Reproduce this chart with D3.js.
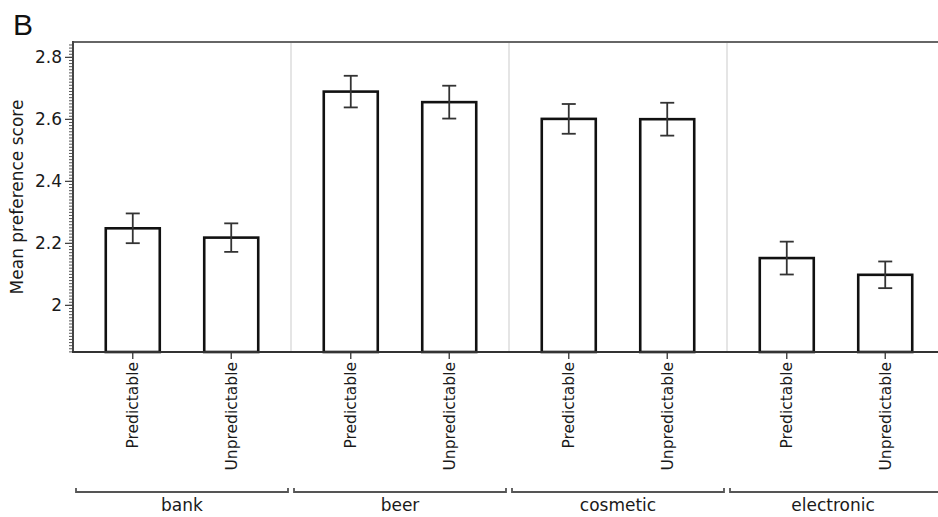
<!DOCTYPE html>
<html>
<head>
<meta charset="utf-8">
<script src="https://cdn.jsdelivr.net/npm/d3@7"></script>
<style>
  html, body { margin: 0; padding: 0; background: #fff; }
  svg { display: block; }
  text { font-family: "DejaVu Sans", sans-serif; fill: #1a1a1a; }
</style>
</head>
<body>
<svg id="chart" width="938" height="517"></svg>
<script>
const categories = ["bank", "beer", "cosmetic", "electronic"];
const levels = ["Predictable", "Unpredictable"];
const predictableMean = [2.247, 2.688, 2.600, 2.151];
const unpredictableMean = [2.217, 2.654, 2.599, 2.097];
const predictableErr = [0.048, 0.051, 0.048, 0.053];
const unpredictableErr = [0.046, 0.053, 0.053, 0.043];
const yMajorTicks = [2, 2.2, 2.4, 2.6, 2.8];
const yTickLabels = ["2", "2.2", "2.4", "2.6", "2.8"];
const yTitle = "Mean preference score";
const panelLabel = "B";

(function () {
const rows = [];
categories.forEach((c, i) => {
  rows.push({cat: c, level: levels[0], mean: predictableMean[i], err: predictableErr[i]});
  rows.push({cat: c, level: levels[1], mean: unpredictableMean[i], err: unpredictableErr[i]});
});

const svg = d3.select("#chart");
const pL = 73, pT = 42, pB = 352, pR = 945;

const x0 = d3.scaleBand().domain(categories).range([pL, pR]);
const x1 = d3.scalePoint().domain(levels).range([0, x0.bandwidth()]).padding(0.607);
const y = d3.scaleLinear().domain([1.848, 2.848]).range([pB, pT]);
const barW = 54;

// panel label
svg.append("text").attr("x", 13).attr("y", 35)
  .style("font-family", "'Liberation Sans', Arial, sans-serif")
  .style("font-size", "30px").style("fill", "#111").text(panelLabel);

// group separators
svg.append("g").selectAll("line").data(categories.slice(1)).join("line")
  .attr("x1", d => x0(d)).attr("x2", d => x0(d))
  .attr("y1", pT).attr("y2", pB)
  .attr("stroke", "#d4d4d4").attr("stroke-width", 1.2);

// top frame
svg.append("line").attr("x1", pL).attr("x2", 938).attr("y1", pT).attr("y2", pT)
  .attr("stroke", "#666").attr("stroke-width", 2);

// bars
svg.append("g").selectAll("rect").data(rows).join("rect")
  .attr("x", d => x0(d.cat) + x1(d.level) - barW / 2)
  .attr("width", barW)
  .attr("y", d => y(d.mean))
  .attr("height", d => pB - y(d.mean))
  .attr("fill", "#fff").attr("stroke", "#111").attr("stroke-width", 2.6);

// error bars
const eb = svg.append("g").attr("stroke", "#333").attr("stroke-width", 1.8);
rows.forEach(d => {
  const cx = x0(d.cat) + x1(d.level);
  eb.append("line").attr("x1", cx).attr("x2", cx).attr("y1", y(d.mean + d.err)).attr("y2", y(d.mean - d.err));
  eb.append("line").attr("x1", cx - 7).attr("x2", cx + 7).attr("y1", y(d.mean + d.err)).attr("y2", y(d.mean + d.err));
  eb.append("line").attr("x1", cx - 7).attr("x2", cx + 7).attr("y1", y(d.mean - d.err)).attr("y2", y(d.mean - d.err));
});

// y axis: minor ticks
const minor = d3.range(185, 285).map(v => v / 100);
svg.append("g").attr("transform", `translate(${pL},0)`)
  .call(d3.axisLeft(y).tickValues(minor).tickSize(4).tickFormat(""))
  .call(g => g.select(".domain").remove())
  .call(g => g.selectAll("line").attr("stroke", "#555").attr("stroke-width", 1));

// y axis: major ticks
const yAxis = svg.append("g").attr("transform", `translate(${pL},0)`)
  .call(d3.axisLeft(y).tickValues(yMajorTicks).tickSize(8).tickPadding(3)
    .tickFormat((d, i) => yTickLabels[i]));
yAxis.select(".domain").remove();
yAxis.selectAll("line").attr("stroke", "#444").attr("stroke-width", 1.3);
yAxis.selectAll("text").style("font-size", "17px").style("font-family", "'DejaVu Sans', sans-serif").style("fill", "#1a1a1a");

svg.append("line").attr("x1", pL).attr("x2", pL).attr("y1", pT - 1).attr("y2", pB)
  .attr("stroke", "#444").attr("stroke-width", 2);

// x axis
svg.append("line").attr("x1", pL - 1).attr("x2", 938).attr("y1", pB).attr("y2", pB)
  .attr("stroke", "#333").attr("stroke-width", 2.2);

const xt = svg.append("g").selectAll("g").data(rows).join("g")
  .attr("transform", d => `translate(${x0(d.cat) + x1(d.level)},${pB})`);
xt.append("line").attr("y1", 0).attr("y2", 7).attr("stroke", "#333").attr("stroke-width", 1.3);
xt.append("text").attr("transform", "rotate(-90)")
  .attr("x", -10).attr("y", 0).attr("dy", "0.35em")
  .attr("text-anchor", "end")
  .style("font-size", "15.5px").text(d => d.level);

// group brackets
const br = svg.append("g").attr("stroke", "#555").attr("stroke-width", 1.8).attr("fill", "none");
categories.forEach(c => {
  const a = x0(c) + 3, b = Math.min(x0(c) + x0.bandwidth() - 3, 940);
  br.append("path").attr("d", `M${a},${488}V${492}H${b}V${488}`);
});
svg.append("g").selectAll("text").data(categories).join("text")
  .attr("x", d => x0(d) + x0.bandwidth() / 2 - (d === "electronic" ? 3 : 0))
  .attr("y", 511).attr("text-anchor", "middle")
  .style("font-size", "17px").text(d => d);

// y title
svg.append("text").attr("transform", `translate(23,${(pT + pB) / 2}) rotate(-90)`)
  .attr("text-anchor", "middle").style("font-size", "17px").text(yTitle);
})();
</script>
</body>
</html>
